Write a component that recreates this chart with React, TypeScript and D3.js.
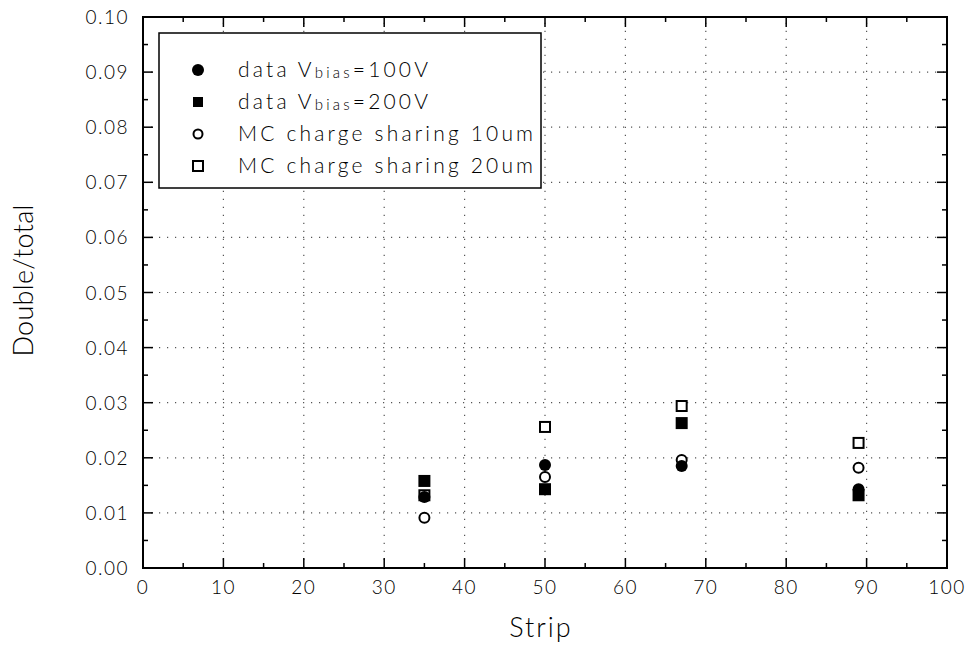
import React from "react"
import * as d3 from "d3"

// strip positions and the four series (fraction of double-strip clusters)
const strips = [35, 50, 67, 89]
const data100V = [0.0129, 0.0187, 0.0185, 0.0143]
const data200V = [0.0158, 0.0143, 0.0263, 0.0132]
const mc10um = [0.0091, 0.0165, 0.0196, 0.0182]
const mc20um = [0.0132, 0.0256, 0.0294, 0.0227]

const xTicks = [0, 10, 20, 30, 40, 50, 60, 70, 80, 90, 100]
const yTicks = [0, 0.01, 0.02, 0.03, 0.04, 0.05, 0.06, 0.07, 0.08, 0.09, 0.1]

const W = 969
const H = 648
const FONT = "Lato, 'DejaVu Sans', sans-serif"

function Marker({ kind, x, y, s }: { kind: string; x: number; y: number; s: number }) {
    if (kind === "fcircle") return <circle cx={x} cy={y} r={s / 2} fill="#000" />
    if (kind === "fsquare") return <rect x={x - s / 2} y={y - s / 2} width={s} height={s} fill="#000" />
    if (kind === "ocircle")
        return <circle cx={x} cy={y} r={s / 2 - 1} fill="#fff" stroke="#000" strokeWidth={2} />
    return <rect x={x - s / 2 + 1} y={y - s / 2 + 1} width={s - 2} height={s - 2} fill="#fff" stroke="#000" strokeWidth={2} />
}

export default function App() {
    const x = d3.scaleLinear().domain([0, 100]).range([143, 947])
    const y = d3.scaleLinear().domain([0, 0.1]).range([568, 17])

    const xMinor = d3.range(5, 100, 10)
    const yMinor = d3.range(0.005, 0.1, 0.01)
    const fmt = d3.format(".2f")

    // draw order: open symbols under filled ones
    const series = [
        { kind: "osquare", values: mc20um },
        { kind: "ocircle", values: mc10um },
        { kind: "fcircle", values: data100V },
        { kind: "fsquare", values: data200V },
    ]

    const legend = [
        { kind: "fcircle", size: 12, pre: "data V", sub: "bias", post: "=100V", len: 190 },
        { kind: "fsquare", size: 10, pre: "data V", sub: "bias", post: "=200V", len: 190 },
        { kind: "ocircle", size: 11, pre: "MC charge sharing 10um", sub: "", post: "", len: 295 },
        { kind: "osquare", size: 12, pre: "MC charge sharing 20um", sub: "", post: "", len: 295 },
    ]
    const legendY = d3.scaleLinear().domain([0, 3]).range([70, 166])

    const [x0, x1] = x.range()
    const [y0, y1] = y.range()

    return (
        <svg width={W} height={H} style={{ position: "absolute", left: 0, top: 0, background: "#fff" }}
            fontFamily={FONT} fontWeight={300}>
            {/* grid */}
            <g stroke="#555" strokeWidth={1.2} strokeDasharray="1.2,6.8">
                {xTicks.slice(1, -1).map(t => (
                    <line key={"gx" + t} x1={x(t)} x2={x(t)} y1={y0} y2={y1} />
                ))}
                {yTicks.slice(1, -1).map(t => (
                    <line key={"gy" + t} x1={x0} x2={x1} y1={y(t)} y2={y(t)} />
                ))}
            </g>

            {/* ticks, inward on all four sides */}
            <g stroke="#000" strokeWidth={1.5}>
                {xTicks.map(t => (
                    <g key={"tx" + t}>
                        <line x1={x(t)} x2={x(t)} y1={y0} y2={y0 - 10} />
                        <line x1={x(t)} x2={x(t)} y1={y1} y2={y1 + 10} />
                    </g>
                ))}
                {xMinor.map(t => (
                    <g key={"mx" + t}>
                        <line x1={x(t)} x2={x(t)} y1={y0} y2={y0 - 5} />
                        <line x1={x(t)} x2={x(t)} y1={y1} y2={y1 + 5} />
                    </g>
                ))}
                {yTicks.map(t => (
                    <g key={"ty" + t}>
                        <line x1={x0} x2={x0 + 10} y1={y(t)} y2={y(t)} />
                        <line x1={x1} x2={x1 - 10} y1={y(t)} y2={y(t)} />
                    </g>
                ))}
                {yMinor.map(t => (
                    <g key={"my" + t}>
                        <line x1={x0} x2={x0 + 5} y1={y(t)} y2={y(t)} />
                        <line x1={x1} x2={x1 - 5} y1={y(t)} y2={y(t)} />
                    </g>
                ))}
            </g>

            {/* frame */}
            <rect x={x0} y={y1} width={x1 - x0} height={y0 - y1} fill="none" stroke="#000" strokeWidth={2} />

            {/* tick labels */}
            <g fontSize={19} fill="#000" letterSpacing={1.5}>
                {xTicks.map(t => (
                    <text key={"lx" + t} x={x(t)} y={594} textAnchor="middle">{t}</text>
                ))}
                {yTicks.map(t => (
                    <text key={"ly" + t} x={129} y={y(t) + 7} textAnchor="end">{fmt(t)}</text>
                ))}
            </g>

            {/* axis titles */}
            <text x={(x0 + x1) / 2 - 4} y={637} textAnchor="middle" fontSize={27} letterSpacing={2}>Strip</text>
            <text transform={`translate(33, ${(y0 + y1) / 2 - 12}) rotate(-90)`} textAnchor="middle" fontSize={27}
                textLength={152} lengthAdjust="spacing">Double/total</text>

            {/* legend */}
            <rect x={159} y={33} width={382} height={155} fill="#fff" stroke="#000" strokeWidth={1.5} />
            {legend.map((l, i) => (
                <g key={"lg" + i}>
                    <Marker kind={l.kind} x={198} y={legendY(i)} s={l.size} />
                    <text x={238} y={legendY(i) + 7} fontSize={21} textLength={l.len} lengthAdjust="spacing">
                        {l.pre}
                        {l.sub && <tspan fontSize={15} dy={1}>{l.sub}</tspan>}
                        {l.post && <tspan dy={-1}>{l.post}</tspan>}
                    </text>
                </g>
            ))}

            {/* data points */}
            {series.map(s => (
                <g key={s.kind}>
                    {s.values.map((v, i) => (
                        <Marker key={i} kind={s.kind} x={x(strips[i])} y={y(v)} s={12} />
                    ))}
                </g>
            ))}
        </svg>
    )
}
